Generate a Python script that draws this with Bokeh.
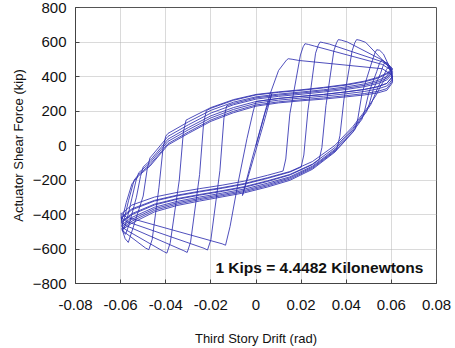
from bokeh.plotting import figure
from bokeh.models import Range1d, FixedTicker, Label
from bokeh.embed import file_html
from bokeh.resources import INLINE

# Third story drift (rad) / actuator shear force (kip).
# Each list is one half cycle in time order (positive loading, then negative).
pos_drift = [
    [0, 0.004, 0.007, 0.003, -0.003, -0.006, -0.002, 0.002, 0.006, 0.010, 0.0135, 0.0143, 0.016, 0.019, 0.056, 0.0595, 0.0605],
    [-0.0595, -0.055, -0.045, -0.035, -0.025, -0.015, -0.005, 0.005, 0.012, 0.0132, 0.015, 0.0197, 0.0209, 0.0217, 0.0232, 0.026, 0.056, 0.0595, 0.0605],
    [-0.0595, -0.055, -0.045, -0.035, -0.025, -0.015, -0.005, 0.005, 0.015, 0.020, 0.0212, 0.023, 0.0264, 0.0276, 0.0284, 0.0299, 0.0325, 0.056, 0.0595, 0.0605],
    [-0.0595, -0.055, -0.045, -0.035, -0.025, -0.015, -0.005, 0.005, 0.015, 0.025, 0.028, 0.0292, 0.031, 0.0345, 0.0357, 0.0365, 0.038, 0.0405, 0.056, 0.0595, 0.0605],
    [-0.0595, -0.055, -0.045, -0.035, -0.025, -0.015, -0.005, 0.005, 0.015, 0.025, 0.035, 0.036, 0.0372, 0.039, 0.0426, 0.0438, 0.0446, 0.0461, 0.0486, 0.0565, 0.0596, 0.0605],
    [-0.0595, -0.055, -0.045, -0.035, -0.025, -0.015, -0.005, 0.005, 0.015, 0.025, 0.035, 0.043, 0.044, 0.0452, 0.047, 0.0515, 0.0527, 0.0535, 0.0548, 0.0565, 0.059, 0.0605],
    [-0.0595, -0.055, -0.045, -0.035, -0.025, -0.015, -0.005, 0.005, 0.015, 0.025, 0.035, 0.043, 0.047, 0.0482, 0.050, 0.0535, 0.0547, 0.0555, 0.0567, 0.058, 0.0597, 0.0605],
    [-0.0595, -0.055, -0.045, -0.035, -0.025, -0.015, -0.005, 0.005, 0.015, 0.025, 0.035, 0.043, 0.049, 0.0502, 0.052, 0.0552, 0.0564, 0.0572, 0.0583, 0.0594, 0.0602, 0.0605],
    [-0.0595, -0.055, -0.045, -0.035, -0.025, -0.015, -0.005, 0.005, 0.015, 0.025, 0.035, 0.043, 0.050, 0.051, 0.054, 0.0566, 0.0578, 0.0586, 0.0595, 0.0601, 0.0605],
    [-0.0597, -0.055, -0.045, -0.035, -0.025, -0.015, -0.005, 0.005, 0.015, 0.025, 0.035, 0.043, 0.050, 0.053, 0.0555, 0.0578, 0.0588, 0.0594, 0.0600, 0.0605],
]
pos_force = [
    [0, 190, 300, 110, -160, -290, -90, 100, 290, 435, 495, 503, 500, 493, 445, 415, 400],
    [-395, -345, -299, -272, -250, -230, -206, -173, -148, -78, 184, 525, 572, 590, 586, 576, 470, 440, 425],
    [-420, -373, -322, -292, -269, -248, -224, -191, -154, -125, -55, 201, 535, 582, 600, 596, 588, 485, 455, 440],
    [-445, -401, -345, -312, -288, -266, -242, -209, -171, -111, -82, -12, 231, 549, 596, 614, 610, 600, 495, 460, 445],
    [-470, -428, -367, -332, -307, -284, -260, -227, -188, -126, -28, -13, 57, 269, 549, 596, 614, 610, 598, 490, 447, 430],
    [-490, -450, -385, -348, -322, -298, -274, -241, -202, -138, -38, 78, 96, 160, 303, 490, 537, 555, 552, 530, 460, 415],
    [-480, -439, -376, -340, -314, -291, -267, -234, -195, -132, -33, 82, 153, 205, 306, 428, 475, 493, 490, 470, 430, 400],
    [-460, -417, -358, -324, -299, -276, -252, -219, -182, -120, -22, 91, 196, 240, 325, 418, 465, 483, 478, 455, 415, 385],
    [-440, -395, -340, -308, -284, -262, -238, -205, -168, -108, -12, 100, 220, 240, 336, 405, 440, 454, 445, 420, 375],
    [-415, -367, -318, -288, -265, -244, -220, -187, -151, -93, 1, 111, 229, 287, 350, 400, 418, 425, 412, 365],
]
neg_drift = [
    [0.0605, 0.058, 0.054, 0.048, 0.040, 0.030, 0.020, 0.010, 0.000, -0.0012, -0.004, -0.008, -0.0115, -0.0135, -0.015, -0.0575, -0.0595],
    [0.0605, 0.058, 0.054, 0.048, 0.040, 0.030, 0.020, 0.010, 0.000, -0.010, -0.013, -0.0142, -0.016, -0.020, -0.0215, -0.023, -0.0575, -0.0595],
    [0.0605, 0.058, 0.054, 0.048, 0.040, 0.030, 0.020, 0.010, 0.000, -0.010, -0.020, -0.022, -0.0232, -0.025, -0.029, -0.0305, -0.032, -0.0575, -0.0595],
    [0.0605, 0.058, 0.054, 0.048, 0.040, 0.030, 0.020, 0.010, 0.000, -0.010, -0.020, -0.030, -0.031, -0.0322, -0.034, -0.038, -0.0395, -0.041, -0.0575, -0.0595],
    [0.0605, 0.058, 0.054, 0.048, 0.040, 0.030, 0.020, 0.010, 0.000, -0.010, -0.020, -0.030, -0.039, -0.040, -0.0412, -0.043, -0.046, -0.0475, -0.049, -0.0575, -0.0595],
    [0.0605, 0.058, 0.054, 0.048, 0.040, 0.030, 0.020, 0.010, 0.000, -0.010, -0.020, -0.030, -0.039, -0.047, -0.0482, -0.050, -0.0551, -0.0566, -0.058, -0.0595],
    [0.0605, 0.058, 0.054, 0.048, 0.040, 0.030, 0.020, 0.010, 0.000, -0.010, -0.020, -0.030, -0.039, -0.047, -0.050, -0.0512, -0.053, -0.0563, -0.0578, -0.0588, -0.0595],
    [0.0605, 0.058, 0.054, 0.048, 0.040, 0.030, 0.020, 0.010, 0.000, -0.010, -0.020, -0.030, -0.039, -0.047, -0.052, -0.0532, -0.055, -0.0573, -0.0586, -0.0592, -0.0595],
    [0.0605, 0.058, 0.054, 0.048, 0.040, 0.030, 0.020, 0.010, 0.000, -0.010, -0.020, -0.030, -0.039, -0.047, -0.052, -0.054, -0.0565, -0.0582, -0.0591, -0.0595, -0.0597],
    [0.0605, 0.058, 0.054, 0.048, 0.040, 0.030, 0.020, 0.010, 0.000, -0.010, -0.020, -0.030, -0.039, -0.047, -0.052, -0.055, -0.0575, -0.0588, -0.0595, -0.0597, -0.0598],
]
neg_force = [
    [400, 360, 341, 325, 311, 296, 285, 273, 255, 200, 40, -220, -470, -578, -570, -415, -395],
    [425, 390, 368, 349, 332, 317, 304, 292, 276, 243, 230, 160, -146, -546, -606, -596, -440, -420],
    [440, 415, 390, 369, 350, 334, 320, 308, 293, 262, 216, 202, 132, -168, -560, -620, -610, -465, -445],
    [445, 420, 395, 373, 354, 337, 323, 311, 296, 266, 220, 154, 147, 77, -200, -564, -624, -614, -490, -470],
    [430, 400, 377, 357, 340, 323, 310, 298, 282, 251, 204, 137, 70, 54, -16, -242, -544, -604, -594, -510, -490],
    [415, 380, 359, 341, 325, 310, 297, 285, 269, 236, 188, 120, 53, -72, -135, -293, -502, -562, -540, -480],
    [400, 360, 341, 325, 311, 296, 285, 273, 255, 220, 172, 104, 37, -88, -124, -180, -300, -460, -515, -500, -460],
    [385, 345, 328, 313, 300, 286, 275, 263, 245, 209, 160, 91, 24, -100, -158, -205, -305, -435, -485, -470, -440],
    [375, 330, 314, 301, 289, 276, 265, 253, 235, 198, 148, 78, 11, -112, -168, -200, -320, -415, -460, -445, -415],
    [365, 320, 305, 293, 282, 269, 259, 247, 228, 190, 140, 70, 3, -120, -175, -223, -330, -400, -435, -420, -390],
]

x_ticks = [-0.08, -0.06, -0.04, -0.02, 0, 0.02, 0.04, 0.06, 0.08]
x_tick_labels = ["-0.08", "-0.06", "-0.04", "-0.02", "0", "0.02", "0.04", "0.06", "0.08"]
y_ticks = [-800, -600, -400, -200, 0, 200, 400, 600, 800]
note_text = "1 Kips = 4.4482 Kilonewtons"

FONT = "Liberation Sans"
LINE = "#3030b0"

p = figure(width=455, height=348, output_backend="svg", toolbar_location=None,
           x_range=Range1d(-0.08, 0.08), y_range=Range1d(-800, 800),
           min_border_left=75, min_border_right=19, min_border_top=7, min_border_bottom=65,
           background_fill_color="white", border_fill_color="white")

# hysteresis path, half cycle by half cycle
xs, ys = [], []
for i in range(len(pos_drift)):
    xs.append(pos_drift[i]); ys.append(pos_force[i])
    xs.append(neg_drift[i]); ys.append(neg_force[i])
p.multi_line(xs, ys, line_color=LINE, line_width=0.9, line_alpha=0.95, line_join="round")

# axes
xa = p.xaxis[0]
xa.ticker = FixedTicker(ticks=x_ticks)
xa.major_label_overrides = {t: s for t, s in zip(x_ticks, x_tick_labels)}
ya = p.yaxis[0]
ya.ticker = FixedTicker(ticks=y_ticks)
for ax in (xa, ya):
    ax.major_tick_in = 4
    ax.major_tick_out = 0
    ax.minor_tick_line_color = None
    ax.axis_line_color = "#444444"
    ax.major_tick_line_color = "#444444"
    ax.major_label_text_font = FONT
    ax.major_label_text_font_size = "15px"
    ax.major_label_text_color = "#111111"
    ax.axis_label_text_font = FONT
    ax.axis_label_text_font_size = "13px"
    ax.axis_label_text_font_style = "normal"
    ax.axis_label_text_color = "#111111"
xa.major_label_standoff = 16
xa.axis_label = "Third Story Drift (rad)"
xa.axis_label_standoff = 18
ya.major_label_standoff = 9
ya.axis_label = "Actuator Shear Force (kip)"
ya.axis_label_standoff = 4

p.xgrid.ticker = FixedTicker(ticks=x_ticks[1:-1])
p.ygrid.ticker = FixedTicker(ticks=y_ticks[1:-1])
for g in (p.xgrid, p.ygrid):
    g.grid_line_color = "#b4b4b4"
    g.grid_line_dash = "1 1"
    g.grid_line_width = 1

p.outline_line_color = "#555555"
p.outline_line_width = 1

p.add_layout(Label(x=-0.018, y=-707, text=note_text, text_font=FONT,
                   text_font_size="15.5px", text_font_style="bold",
                   text_baseline="middle", text_align="left", text_color="#111111"))

open("out.html", "w").write(file_html(p, INLINE))
